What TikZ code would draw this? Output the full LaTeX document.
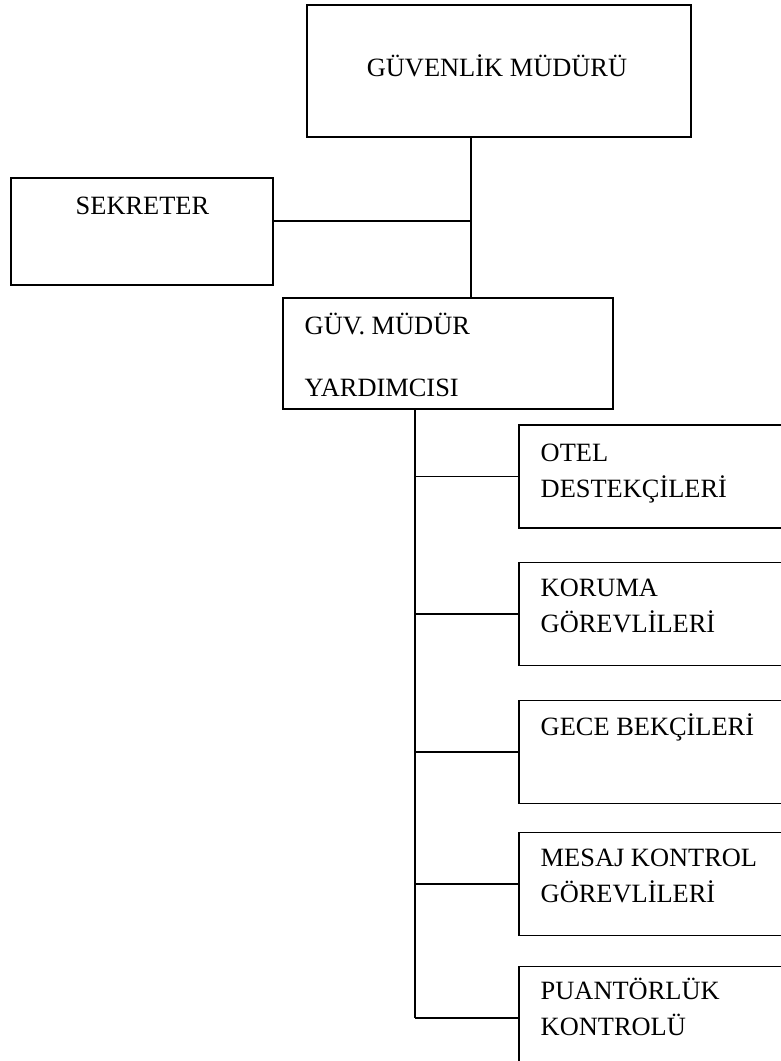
\documentclass[tikz,border=0pt]{standalone}
\usepackage{fontspec}
\setmainfont{Liberation Serif}
\usetikzlibrary{positioning, calc}

\begin{document}
\begin{tikzpicture}[x=0.75pt, y=-0.75pt, line width=1.1pt,
  box/.style={draw=black, line width=1.3pt, inner sep=0pt, rectangle},
  unitbox/.style={box, minimum width=225pt, minimum height=77.25pt},
  lbl/.style={inner sep=0pt, anchor=base west, align=left,
    font=\fontsize{19.8}{27}\selectfont}]

\useasboundingbox (0,0) rectangle (781,1061);
\clip (0,0) rectangle (781,1061);

% =========== TOP: manager and secretary ===========
\node[box, line width=1.6pt, minimum width=288pt, minimum height=99pt] (mgr) at (499,71) {};
\node[lbl, anchor=base] (mgrtxt) at (497,76) {GÜVENLİK MÜDÜRÜ};

\node[box, minimum width=196.5pt, minimum height=80.25pt] (sek) at (142,231.5) {};
\node[lbl] (sektxt) at (75,214) {SEKRETER};

\node[box, minimum width=247.5pt, minimum height=83.25pt] (yard) at (448,353.5) {};
\node[lbl] (yardtxt) at (304,334) {GÜV. MÜDÜR};
\node[lbl] (yardtxtb) at (304,396) {YARDIMCISI};

% trunk between manager and assistant
\coordinate (trunk) at (471,221);
\draw (mgr.south -| trunk) -- (yard.north -| trunk);
\draw (sek.east |- trunk) -- (trunk);

% =========== RIGHT: units ===========
\node[unitbox] (otel)  at (669,476.5) {};
\node[unitbox] (kor)   at (669,614)   {};
\node[unitbox] (gece)  at (669,752)   {};
\node[unitbox] (mesaj) at (669,884)   {};
\node[unitbox] (puan)  at (669,1018)  {};

% (base of a two-line label is its last line)
\node[lbl] (oteltxt)  at (540,497)  {OTEL\\DESTEKÇİLERİ};
\node[lbl] (kortxt)   at (540,632)  {KORUMA\\GÖREVLİLERİ};
\node[lbl] (gecetxt)  at (540,735)  {GECE BEKÇİLERİ};
\node[lbl] (mesajtxt) at (540,902)  {MESAJ KONTROL\\GÖREVLİLERİ};
\node[lbl] (puantxt)  at (540,1035) {PUANTÖRLÜK\\KONTROLÜ};

% spine down the left of the units
\coordinate (spine) at (415,409);
\draw (yard.south -| spine) -- (spine |- puan.west);
\foreach \u in {otel,kor,gece,mesaj,puan} {
  \draw (spine |- \u.west) -- (\u.west);
}

\end{tikzpicture}
\end{document}
